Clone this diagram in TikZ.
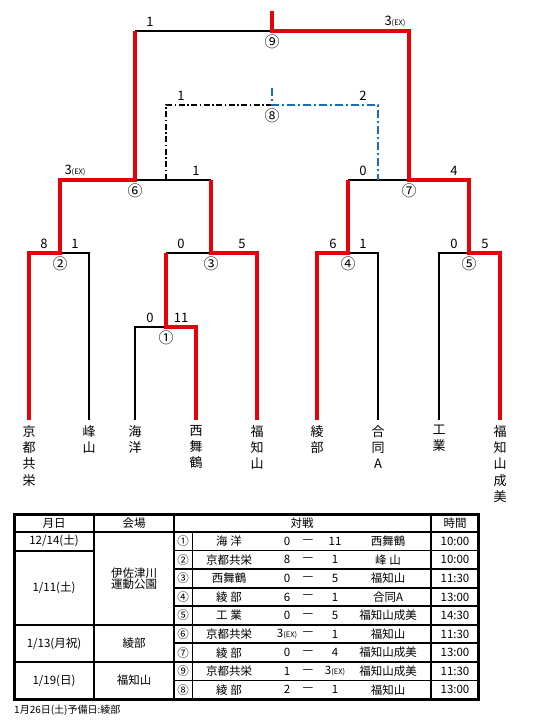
\documentclass[tikz,border=0pt]{standalone}
\usepackage{fontspec}
\setmainfont{Noto Sans CJK JP}
\usetikzlibrary{positioning}
\definecolor{winred}{RGB}{232, 0, 10}
\definecolor{thirdblue}{RGB}{25, 110, 180}
\newcommand{\exmark}{{\fontsize{7.5}{8}\selectfont(EX)}}

\begin{document}
\begin{tikzpicture}[x=1pt, y=-1pt,
      lose/.style={line width=1.4pt, black},
      win/.style={line width=4pt, winred},
      loseb/.style={line width=1.5pt, black, dash pattern=on 6pt off 2.5pt on 1.5pt off 2.5pt},
      winb/.style={line width=2.6pt, thirdblue, dash pattern=on 8pt off 3pt on 2pt off 3pt},
      num/.style={font=\fontsize{15}{15}\selectfont, inner sep=0pt},
      sc/.style={font=\fontsize{13}{13}\selectfont, inner sep=0pt},
      team/.style={align=center, inner sep=0pt, font=\fontsize{13}{16.3}\selectfont},
      cell/.style={font=\fontsize{11.5}{12.5}\selectfont, inner sep=0pt, align=center},
      rule/.style={line width=2pt, black}]
  \useasboundingbox (0,0) rectangle (551,722);
  % Teams
  \coordinate (t1) at (29,420);  \coordinate (t2) at (89,420);
  \coordinate (t3) at (135,420); \coordinate (t4) at (196,420);
  \coordinate (t5) at (257,420); \coordinate (t6) at (317,420);
  \coordinate (t7) at (378,420); \coordinate (t8) at (439,420);
  \coordinate (t9) at (500,420);
  \node[team, below=5pt] (n1) at (t1) {京\\都\\共\\栄};
  \node[team, below=5pt] (n2) at (t2) {峰\\山};
  \node[team, below=5pt] (n3) at (t3) {海\\洋};
  \node[team, below=5pt] (n4) at (t4) {西\\舞\\鶴};
  \node[team, below=5pt] (n5) at (t5) {福\\知\\山};
  \node[team, below=5pt] (n6) at (t6) {綾\\部};
  \node[team, below=5pt] (n7) at (t7) {合\\同\\A};
  \node[team, below=5pt] (n8) at (t8) {工\\業};
  \node[team, below=5pt] (n9) at (t9) {福\\知\\山\\成\\美};
  % Matches
  \coordinate (m1) at (166,327); \coordinate (m2) at (60,253);
  \coordinate (m3) at (211,253); \coordinate (m4) at (348,253);
  \coordinate (m5) at (469,253); \coordinate (m6) at (135,180);
  \coordinate (m7) at (409,180); \coordinate (m8) at (272,105);
  \coordinate (m9) at (272,31);
  \coordinate (top) at (272,11); \coordinate (m8up) at (272,88);
  % Lost
  \draw[lose] (t2) |- (m2);
  \draw[lose] (t3) |- (m1);
  \draw[lose] (m1 |- m3) -- (m3);
  \draw[lose] (t7) |- (m4);
  \draw[lose] (t8) |- (m5);
  \draw[lose] (m6) -- (m3 |- m6);
  \draw[lose] (m4 |- m7) -- (m7);
  \draw[lose] (m6 |- m9) -- (m9);
  % Won
  \draw[win] (t1) |- (m2) |- (m6) -- (m6 |- m9);
  \draw[win] (t4) |- (m1) -- (m1 |- m3);
  \draw[win] (t5) |- (m3) -- (m3 |- m6);
  \draw[win] (t6) |- (m4) -- (m4 |- m7);
  \draw[win] (t9) |- (m5) |- (m7) |- (m9) -- (top);
  % Third place
  \draw[loseb] (m1 |- m6) |- (m8);
  \draw[winb] (m8up) -- (m8) -| (t7 |- m7);
  % Match numbers
  \foreach \m/\c in {1/①, 2/②, 3/③, 4/④, 5/⑤, 6/⑥, 7/⑦, 8/⑧, 9/⑨}
    \node[num, below=3.5pt] (c\m) at (m\m) {\c};
  % Scores
  \node[sc, above=4pt] (s1a) at (150,327) {0};
  \node[sc, above=4pt] (s1b) at (181,327) {11};
  \node[sc, above=4pt] (s2a) at (44,253) {8};
  \node[sc, above=4pt] (s2b) at (75,253) {1};
  \node[sc, above=4pt] (s3a) at (181,253) {0};
  \node[sc, above=4pt] (s3b) at (242,253) {5};
  \node[sc, above=4pt] (s4a) at (333,253) {6};
  \node[sc, above=4pt] (s4b) at (363,253) {1};
  \node[sc, above=4pt] (s5a) at (454,253) {0};
  \node[sc, above=4pt] (s5b) at (485,253) {5};
  \node[sc, above=4pt] (s6a) at (75,180) {3\exmark};
  \node[sc, above=4pt] (s6b) at (196,180) {1};
  \node[sc, above=4pt] (s7a) at (363,180) {0};
  \node[sc, above=4pt] (s7b) at (454,180) {4};
  \node[sc, above=4pt] (s8a) at (181,105) {1};
  \node[sc, above=4pt] (s8b) at (363,105) {2};
  \node[sc, above=4pt] (s9a) at (150,31) {1};
  \node[sc, above=4pt] (s9b) at (395,31) {3\exmark};
  % Table
  \draw[line width=3pt] (14,514) rectangle (478,699);
  \draw[rule] (14,532) -- (478,532);
  \foreach \x in {94,174,431} \draw[rule] (\x,514) -- (\x,699);
  \draw[line width=0.8pt] (192,532) -- (192,699);
  \foreach \i in {1,...,8} \draw[line width=1.8pt] (174,{532+\i*18.56}) -- (478,{532+\i*18.56});
  \foreach \i in {1,5,7} \draw[rule] (14,{532+\i*18.56}) -- (94,{532+\i*18.56});
  \foreach \i in {5,7} \draw[rule] (94,{532+\i*18.56}) -- (174,{532+\i*18.56});
  \node[cell] (h1) at (54,523) {月日};
  \node[cell] (h2) at (134,523) {会場};
  \node[cell] (h3) at (302,523) {対戦};
  \node[cell] (h4) at (455,523) {時間};
  \node[cell] (d1) at (54,541.3) {12/14(土)};
  \node[cell] (d2) at (54,588) {1/11(土)};
  \node[cell] (d3) at (54,643.5) {1/13(月祝)};
  \node[cell] (d4) at (54,680.5) {1/19(日)};
  \node[cell, font=\fontsize{11.5}{11.5}\selectfont] (v1) at (134,578.5) {伊佐津川\\運動公園};
  \node[cell] (v2) at (134,643.5) {綾部};
  \node[cell] (v3) at (134,680.5) {福知山};
  \foreach \no/\ta/\sa/\sb/\tb/\tm [count=\i] in
      {①/海 洋/0/11/西舞鶴/10:00, ②/京都共栄/8/1/峰 山/10:00,
       ③/西舞鶴/0/5/福知山/11:30, ④/綾 部/6/1/合同A/13:00,
       ⑤/工 業/0/5/福知山成美/14:30, ⑥/京都共栄/{3\exmark}/1/福知山/11:30,
       ⑦/綾 部/0/4/福知山成美/13:00, ⑨/京都共栄/1/{3\exmark}/福知山成美/11:30,
       ⑧/綾 部/2/1/福知山/13:00} {
    \node[cell] (no\i) at (183,{532+(\i-0.5)*18.56}) {\no};
    \node[cell] (ta\i) at (229,{532+(\i-0.5)*18.56}) {\ta};
    \node[cell] (sa\i) at (287,{532+(\i-0.5)*18.56}) {\sa};
    \node[cell, font=\fontsize{12}{12}\selectfont] (da\i) at (308,{532+(\i-0.5)*18.56}) {—};
    \node[cell] (sb\i) at (335,{532+(\i-0.5)*18.56}) {\sb};
    \node[cell] (tb\i) at (388,{532+(\i-0.5)*18.56}) {\tb};
    \node[cell] (tm\i) at (455,{532+(\i-0.5)*18.56}) {\tm};
  }
  \node[cell, anchor=west, font=\fontsize{10}{10}\selectfont] (note) at (14,710) {1月26日(土)予備日:綾部};
\end{tikzpicture}
\end{document}
